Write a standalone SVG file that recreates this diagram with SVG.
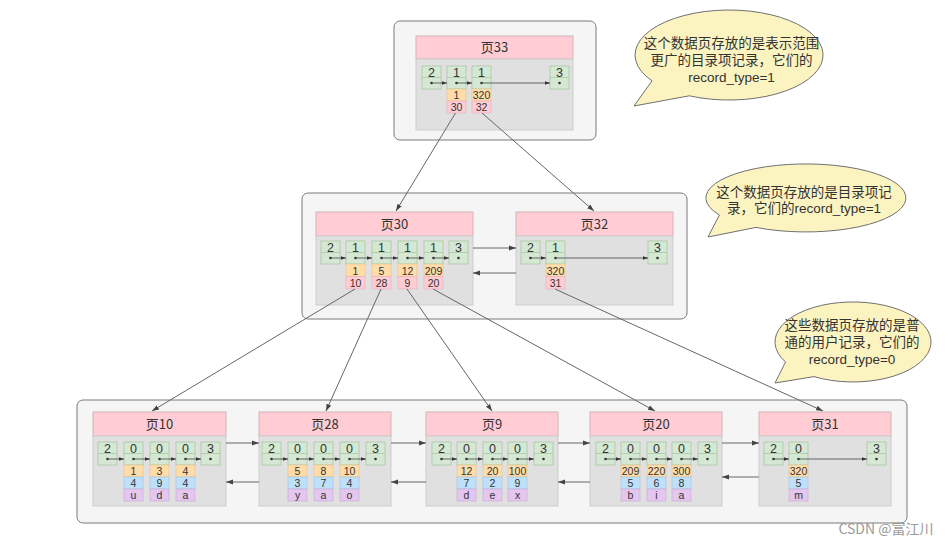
<svg xmlns="http://www.w3.org/2000/svg" width="949" height="544" viewBox="0 0 949 544">
<defs>
<marker id="ah" viewBox="0 0 10 10" refX="10" refY="5" markerWidth="7" markerHeight="7" markerUnits="userSpaceOnUse" orient="auto"><path d="M0,1.5 L10,5 L0,8.5 z" fill="#444"/></marker>
<marker id="as" viewBox="0 0 10 10" refX="10" refY="5" markerWidth="5" markerHeight="5" markerUnits="userSpaceOnUse" orient="auto"><path d="M0,1.5 L10,5 L0,8.5 z" fill="#333"/></marker>
</defs>
<style>
text{font-family:"Noto Sans CJK SC","Noto Sans",sans-serif;fill:#333;text-anchor:middle}
.outer{fill:#f5f5f5;stroke:#7a7a7a;stroke-width:1}
.hdr{fill:#ffcdd3;stroke:#d6b4b9;stroke-width:1}
.body{fill:#e0e0e0;stroke:#cdcdcd;stroke-width:1}
.g{fill:#d5e8d4;stroke:#a8c8a2;stroke-width:0.8}
.o{fill:#ffdca8;stroke:#e3c392;stroke-width:0.6}
.p{fill:#ffccd4;stroke:#e5b0b8;stroke-width:0.6}
.b{fill:#bfe0fa;stroke:#a0c4de;stroke-width:0.6}
.u{fill:#e4c6ee;stroke:#c9a9d4;stroke-width:0.6}
.t{font-size:13px}
.n{font-family:"Liberation Sans",sans-serif;font-size:12.5px}
.d{font-family:"Liberation Sans",sans-serif;font-size:10.5px}
.dot{fill:#333}
.ia{stroke:#444;stroke-width:0.8;fill:none;marker-end:url(#as)}
.c{stroke:#666;stroke-width:1;fill:none;marker-end:url(#ah)}
.bub{fill:#fcf4c0;stroke:#707070;stroke-width:1}
.bt{font-family:"Liberation Sans","Noto Sans CJK SC",sans-serif;font-size:13.5px;fill:#333}
</style>
<rect width="949" height="544" fill="#ffffff"/>

<!-- outer containers -->
<g id="level2-box"><rect class="outer" x="394" y="21" width="202" height="119" rx="6"/></g>
<g id="level1-box"><rect class="outer" x="302" y="193" width="385" height="126" rx="6"/></g>
<g id="level0-box"><rect class="outer" x="77" y="400" width="830" height="123" rx="6"/></g>

<!-- page 33 -->
<g id="page33">
<rect class="hdr" x="416" y="36" width="157" height="23"/>
<rect class="body" x="416" y="59" width="157" height="71"/>
<text class="t" x="494.5" y="52">页33</text>
<rect class="g" x="422" y="66" width="19" height="23"/><line x1="422" y1="77.5" x2="441" y2="77.5" stroke="#a8c8a2" stroke-width="0.8"/><text class="n" x="431.5" y="76.5">2</text><circle class="dot" cx="431.5" cy="83" r="1.3"/>
<rect class="g" x="447" y="66" width="19" height="23"/><line x1="447" y1="77.5" x2="466" y2="77.5" stroke="#a8c8a2" stroke-width="0.8"/><text class="n" x="456.5" y="76.5">1</text><circle class="dot" cx="456.5" cy="83" r="1.3"/>
<rect class="g" x="472" y="66" width="19" height="23"/><line x1="472" y1="77.5" x2="491" y2="77.5" stroke="#a8c8a2" stroke-width="0.8"/><text class="n" x="481.5" y="76.5">1</text><circle class="dot" cx="481.5" cy="83" r="1.3"/>
<rect class="g" x="550" y="66" width="19" height="23"/><line x1="550" y1="77.5" x2="569" y2="77.5" stroke="#a8c8a2" stroke-width="0.8"/><text class="n" x="559.5" y="76.5">3</text><circle class="dot" cx="559.5" cy="83" r="1.3"/>
<rect class="o" x="447" y="89" width="19" height="12"/><text class="d" x="456.5" y="99">1</text>
<rect class="o" x="472" y="89" width="19" height="12"/><text class="d" x="481.5" y="99">320</text>
<rect class="p" x="447" y="101" width="19" height="12"/><text class="d" x="456.5" y="111">30</text>
<rect class="p" x="472" y="101" width="19" height="12"/><text class="d" x="481.5" y="111">32</text>
<line class="ia" x1="431.5" y1="83" x2="447" y2="83"/>
<line class="ia" x1="456.5" y1="83" x2="472" y2="83"/>
<line class="ia" x1="481.5" y1="83" x2="550" y2="83"/>
</g>

<!-- page 30 -->
<g id="page30">
<rect class="hdr" x="316" y="212" width="157" height="24"/>
<rect class="body" x="316" y="236" width="157" height="69"/>
<text class="t" x="394.5" y="229">页30</text>
<rect class="g" x="321" y="241" width="19" height="23"/><line x1="321" y1="252.5" x2="340" y2="252.5" stroke="#a8c8a2" stroke-width="0.8"/><text class="n" x="330.5" y="251.5">2</text><circle class="dot" cx="330.5" cy="258" r="1.3"/>
<rect class="g" x="346" y="241" width="19" height="23"/><line x1="346" y1="252.5" x2="365" y2="252.5" stroke="#a8c8a2" stroke-width="0.8"/><text class="n" x="355.5" y="251.5">1</text><circle class="dot" cx="355.5" cy="258" r="1.3"/>
<rect class="g" x="372" y="241" width="19" height="23"/><line x1="372" y1="252.5" x2="391" y2="252.5" stroke="#a8c8a2" stroke-width="0.8"/><text class="n" x="381.5" y="251.5">1</text><circle class="dot" cx="381.5" cy="258" r="1.3"/>
<rect class="g" x="398" y="241" width="19" height="23"/><line x1="398" y1="252.5" x2="417" y2="252.5" stroke="#a8c8a2" stroke-width="0.8"/><text class="n" x="407.5" y="251.5">1</text><circle class="dot" cx="407.5" cy="258" r="1.3"/>
<rect class="g" x="424" y="241" width="19" height="23"/><line x1="424" y1="252.5" x2="443" y2="252.5" stroke="#a8c8a2" stroke-width="0.8"/><text class="n" x="433.5" y="251.5">1</text><circle class="dot" cx="433.5" cy="258" r="1.3"/>
<rect class="g" x="449" y="241" width="19" height="23"/><line x1="449" y1="252.5" x2="468" y2="252.5" stroke="#a8c8a2" stroke-width="0.8"/><text class="n" x="458.5" y="251.5">3</text><circle class="dot" cx="458.5" cy="258" r="1.3"/>
<rect class="o" x="346" y="264" width="19" height="12.5"/><text class="d" x="355.5" y="274.5">1</text>
<rect class="o" x="372" y="264" width="19" height="12.5"/><text class="d" x="381.5" y="274.5">5</text>
<rect class="o" x="398" y="264" width="19" height="12.5"/><text class="d" x="407.5" y="274.5">12</text>
<rect class="o" x="424" y="264" width="19" height="12.5"/><text class="d" x="433.5" y="274.5">209</text>
<rect class="p" x="346" y="276.5" width="19" height="12.5"/><text class="d" x="355.5" y="287">10</text>
<rect class="p" x="372" y="276.5" width="19" height="12.5"/><text class="d" x="381.5" y="287">28</text>
<rect class="p" x="398" y="276.5" width="19" height="12.5"/><text class="d" x="407.5" y="287">9</text>
<rect class="p" x="424" y="276.5" width="19" height="12.5"/><text class="d" x="433.5" y="287">20</text>
<line class="ia" x1="330.5" y1="258" x2="346" y2="258"/>
<line class="ia" x1="355.5" y1="258" x2="372" y2="258"/>
<line class="ia" x1="381.5" y1="258" x2="398" y2="258"/>
<line class="ia" x1="407.5" y1="258" x2="424" y2="258"/>
<line class="ia" x1="433.5" y1="258" x2="449" y2="258"/>
</g>

<!-- page 32 -->
<g id="page32">
<rect class="hdr" x="516" y="212" width="157" height="24"/>
<rect class="body" x="516" y="236" width="157" height="69"/>
<text class="t" x="594.5" y="229">页32</text>
<rect class="g" x="521" y="241" width="19" height="23"/><line x1="521" y1="252.5" x2="540" y2="252.5" stroke="#a8c8a2" stroke-width="0.8"/><text class="n" x="530.5" y="251.5">2</text><circle class="dot" cx="530.5" cy="258" r="1.3"/>
<rect class="g" x="546" y="241" width="19" height="23"/><line x1="546" y1="252.5" x2="565" y2="252.5" stroke="#a8c8a2" stroke-width="0.8"/><text class="n" x="555.5" y="251.5">1</text><circle class="dot" cx="555.5" cy="258" r="1.3"/>
<rect class="g" x="648" y="241" width="19" height="23"/><line x1="648" y1="252.5" x2="667" y2="252.5" stroke="#a8c8a2" stroke-width="0.8"/><text class="n" x="657.5" y="251.5">3</text><circle class="dot" cx="657.5" cy="258" r="1.3"/>
<rect class="o" x="546" y="264" width="19" height="12.5"/><text class="d" x="555.5" y="274.5">320</text>
<rect class="p" x="546" y="276.5" width="19" height="12.5"/><text class="d" x="555.5" y="287">31</text>
<line class="ia" x1="530.5" y1="258" x2="546" y2="258"/>
<line class="ia" x1="555.5" y1="258" x2="648" y2="258"/>
</g>

<!-- page 10 -->
<g id="page10">
<rect class="hdr" x="93" y="412" width="133" height="24"/>
<rect class="body" x="93" y="436" width="133" height="70"/>
<text class="t" x="159.5" y="429">页10</text>
<rect class="g" x="98" y="442" width="19" height="23"/><line x1="98" y1="453.5" x2="117" y2="453.5" stroke="#a8c8a2" stroke-width="0.8"/><text class="n" x="107.5" y="452.5">2</text><circle class="dot" cx="107.5" cy="459" r="1.3"/>
<rect class="g" x="124" y="442" width="19" height="23"/><line x1="124" y1="453.5" x2="143" y2="453.5" stroke="#a8c8a2" stroke-width="0.8"/><text class="n" x="133.5" y="452.5">0</text><circle class="dot" cx="133.5" cy="459" r="1.3"/>
<rect class="g" x="150" y="442" width="19" height="23"/><line x1="150" y1="453.5" x2="169" y2="453.5" stroke="#a8c8a2" stroke-width="0.8"/><text class="n" x="159.5" y="452.5">0</text><circle class="dot" cx="159.5" cy="459" r="1.3"/>
<rect class="g" x="176" y="442" width="19" height="23"/><line x1="176" y1="453.5" x2="195" y2="453.5" stroke="#a8c8a2" stroke-width="0.8"/><text class="n" x="185.5" y="452.5">0</text><circle class="dot" cx="185.5" cy="459" r="1.3"/>
<rect class="g" x="201" y="442" width="19" height="23"/><line x1="201" y1="453.5" x2="220" y2="453.5" stroke="#a8c8a2" stroke-width="0.8"/><text class="n" x="210.5" y="452.5">3</text><circle class="dot" cx="210.5" cy="459" r="1.3"/>
<rect class="o" x="124" y="465" width="19" height="12"/><text class="d" x="133.5" y="475">1</text>
<rect class="o" x="150" y="465" width="19" height="12"/><text class="d" x="159.5" y="475">3</text>
<rect class="o" x="176" y="465" width="19" height="12"/><text class="d" x="185.5" y="475">4</text>
<rect class="b" x="124" y="477" width="19" height="12"/><text class="d" x="133.5" y="487">4</text>
<rect class="b" x="150" y="477" width="19" height="12"/><text class="d" x="159.5" y="487">9</text>
<rect class="b" x="176" y="477" width="19" height="12"/><text class="d" x="185.5" y="487">4</text>
<rect class="u" x="124" y="489" width="19" height="12"/><text class="d" x="133.5" y="499">u</text>
<rect class="u" x="150" y="489" width="19" height="12"/><text class="d" x="159.5" y="499">d</text>
<rect class="u" x="176" y="489" width="19" height="12"/><text class="d" x="185.5" y="499">a</text>
<line class="ia" x1="107.5" y1="459" x2="124" y2="459"/>
<line class="ia" x1="133.5" y1="459" x2="150" y2="459"/>
<line class="ia" x1="159.5" y1="459" x2="176" y2="459"/>
<line class="ia" x1="185.5" y1="459" x2="201" y2="459"/>
</g>

<!-- page 28 -->
<g id="page28">
<rect class="hdr" x="259" y="412" width="132" height="24"/>
<rect class="body" x="259" y="436" width="132" height="70"/>
<text class="t" x="325" y="429">页28</text>
<rect class="g" x="262" y="442" width="19" height="23"/><line x1="262" y1="453.5" x2="281" y2="453.5" stroke="#a8c8a2" stroke-width="0.8"/><text class="n" x="271.5" y="452.5">2</text><circle class="dot" cx="271.5" cy="459" r="1.3"/>
<rect class="g" x="288" y="442" width="19" height="23"/><line x1="288" y1="453.5" x2="307" y2="453.5" stroke="#a8c8a2" stroke-width="0.8"/><text class="n" x="297.5" y="452.5">0</text><circle class="dot" cx="297.5" cy="459" r="1.3"/>
<rect class="g" x="314" y="442" width="19" height="23"/><line x1="314" y1="453.5" x2="333" y2="453.5" stroke="#a8c8a2" stroke-width="0.8"/><text class="n" x="323.5" y="452.5">0</text><circle class="dot" cx="323.5" cy="459" r="1.3"/>
<rect class="g" x="340" y="442" width="19" height="23"/><line x1="340" y1="453.5" x2="359" y2="453.5" stroke="#a8c8a2" stroke-width="0.8"/><text class="n" x="349.5" y="452.5">0</text><circle class="dot" cx="349.5" cy="459" r="1.3"/>
<rect class="g" x="366" y="442" width="19" height="23"/><line x1="366" y1="453.5" x2="385" y2="453.5" stroke="#a8c8a2" stroke-width="0.8"/><text class="n" x="375.5" y="452.5">3</text><circle class="dot" cx="375.5" cy="459" r="1.3"/>
<rect class="o" x="288" y="465" width="19" height="12"/><text class="d" x="297.5" y="475">5</text>
<rect class="o" x="314" y="465" width="19" height="12"/><text class="d" x="323.5" y="475">8</text>
<rect class="o" x="340" y="465" width="19" height="12"/><text class="d" x="349.5" y="475">10</text>
<rect class="b" x="288" y="477" width="19" height="12"/><text class="d" x="297.5" y="487">3</text>
<rect class="b" x="314" y="477" width="19" height="12"/><text class="d" x="323.5" y="487">7</text>
<rect class="b" x="340" y="477" width="19" height="12"/><text class="d" x="349.5" y="487">4</text>
<rect class="u" x="288" y="489" width="19" height="12"/><text class="d" x="297.5" y="499">y</text>
<rect class="u" x="314" y="489" width="19" height="12"/><text class="d" x="323.5" y="499">a</text>
<rect class="u" x="340" y="489" width="19" height="12"/><text class="d" x="349.5" y="499">o</text>
<line class="ia" x1="271.5" y1="459" x2="288" y2="459"/>
<line class="ia" x1="297.5" y1="459" x2="314" y2="459"/>
<line class="ia" x1="323.5" y1="459" x2="340" y2="459"/>
<line class="ia" x1="349.5" y1="459" x2="366" y2="459"/>
</g>

<!-- page 9 -->
<g id="page9">
<rect class="hdr" x="426" y="412" width="132" height="24"/>
<rect class="body" x="426" y="436" width="132" height="70"/>
<text class="t" x="492" y="429">页9</text>
<rect class="g" x="432" y="442" width="19" height="23"/><line x1="432" y1="453.5" x2="451" y2="453.5" stroke="#a8c8a2" stroke-width="0.8"/><text class="n" x="441.5" y="452.5">2</text><circle class="dot" cx="441.5" cy="459" r="1.3"/>
<rect class="g" x="457" y="442" width="19" height="23"/><line x1="457" y1="453.5" x2="476" y2="453.5" stroke="#a8c8a2" stroke-width="0.8"/><text class="n" x="466.5" y="452.5">0</text><circle class="dot" cx="466.5" cy="459" r="1.3"/>
<rect class="g" x="483" y="442" width="19" height="23"/><line x1="483" y1="453.5" x2="502" y2="453.5" stroke="#a8c8a2" stroke-width="0.8"/><text class="n" x="492.5" y="452.5">0</text><circle class="dot" cx="492.5" cy="459" r="1.3"/>
<rect class="g" x="508" y="442" width="19" height="23"/><line x1="508" y1="453.5" x2="527" y2="453.5" stroke="#a8c8a2" stroke-width="0.8"/><text class="n" x="517.5" y="452.5">0</text><circle class="dot" cx="517.5" cy="459" r="1.3"/>
<rect class="g" x="534" y="442" width="19" height="23"/><line x1="534" y1="453.5" x2="553" y2="453.5" stroke="#a8c8a2" stroke-width="0.8"/><text class="n" x="543.5" y="452.5">3</text><circle class="dot" cx="543.5" cy="459" r="1.3"/>
<rect class="o" x="457" y="465" width="19" height="12"/><text class="d" x="466.5" y="475">12</text>
<rect class="o" x="483" y="465" width="19" height="12"/><text class="d" x="492.5" y="475">20</text>
<rect class="o" x="508" y="465" width="19" height="12"/><text class="d" x="517.5" y="475">100</text>
<rect class="b" x="457" y="477" width="19" height="12"/><text class="d" x="466.5" y="487">7</text>
<rect class="b" x="483" y="477" width="19" height="12"/><text class="d" x="492.5" y="487">2</text>
<rect class="b" x="508" y="477" width="19" height="12"/><text class="d" x="517.5" y="487">9</text>
<rect class="u" x="457" y="489" width="19" height="12"/><text class="d" x="466.5" y="499">d</text>
<rect class="u" x="483" y="489" width="19" height="12"/><text class="d" x="492.5" y="499">e</text>
<rect class="u" x="508" y="489" width="19" height="12"/><text class="d" x="517.5" y="499">x</text>
<line class="ia" x1="441.5" y1="459" x2="457" y2="459"/>
<line class="ia" x1="466.5" y1="459" x2="483" y2="459"/>
<line class="ia" x1="492.5" y1="459" x2="508" y2="459"/>
<line class="ia" x1="517.5" y1="459" x2="534" y2="459"/>
</g>

<!-- page 20 -->
<g id="page20">
<rect class="hdr" x="590" y="412" width="132" height="24"/>
<rect class="body" x="590" y="436" width="132" height="70"/>
<text class="t" x="656" y="429">页20</text>
<rect class="g" x="596" y="442" width="19" height="23"/><line x1="596" y1="453.5" x2="615" y2="453.5" stroke="#a8c8a2" stroke-width="0.8"/><text class="n" x="605.5" y="452.5">2</text><circle class="dot" cx="605.5" cy="459" r="1.3"/>
<rect class="g" x="621" y="442" width="19" height="23"/><line x1="621" y1="453.5" x2="640" y2="453.5" stroke="#a8c8a2" stroke-width="0.8"/><text class="n" x="630.5" y="452.5">0</text><circle class="dot" cx="630.5" cy="459" r="1.3"/>
<rect class="g" x="647" y="442" width="19" height="23"/><line x1="647" y1="453.5" x2="666" y2="453.5" stroke="#a8c8a2" stroke-width="0.8"/><text class="n" x="656.5" y="452.5">0</text><circle class="dot" cx="656.5" cy="459" r="1.3"/>
<rect class="g" x="672" y="442" width="19" height="23"/><line x1="672" y1="453.5" x2="691" y2="453.5" stroke="#a8c8a2" stroke-width="0.8"/><text class="n" x="681.5" y="452.5">0</text><circle class="dot" cx="681.5" cy="459" r="1.3"/>
<rect class="g" x="698" y="442" width="19" height="23"/><line x1="698" y1="453.5" x2="717" y2="453.5" stroke="#a8c8a2" stroke-width="0.8"/><text class="n" x="707.5" y="452.5">3</text><circle class="dot" cx="707.5" cy="459" r="1.3"/>
<rect class="o" x="621" y="465" width="19" height="12"/><text class="d" x="630.5" y="475">209</text>
<rect class="o" x="647" y="465" width="19" height="12"/><text class="d" x="656.5" y="475">220</text>
<rect class="o" x="672" y="465" width="19" height="12"/><text class="d" x="681.5" y="475">300</text>
<rect class="b" x="621" y="477" width="19" height="12"/><text class="d" x="630.5" y="487">5</text>
<rect class="b" x="647" y="477" width="19" height="12"/><text class="d" x="656.5" y="487">6</text>
<rect class="b" x="672" y="477" width="19" height="12"/><text class="d" x="681.5" y="487">8</text>
<rect class="u" x="621" y="489" width="19" height="12"/><text class="d" x="630.5" y="499">b</text>
<rect class="u" x="647" y="489" width="19" height="12"/><text class="d" x="656.5" y="499">i</text>
<rect class="u" x="672" y="489" width="19" height="12"/><text class="d" x="681.5" y="499">a</text>
<line class="ia" x1="605.5" y1="459" x2="621" y2="459"/>
<line class="ia" x1="630.5" y1="459" x2="647" y2="459"/>
<line class="ia" x1="656.5" y1="459" x2="672" y2="459"/>
<line class="ia" x1="681.5" y1="459" x2="698" y2="459"/>
</g>

<!-- page 31 -->
<g id="page31">
<rect class="hdr" x="759" y="412" width="132" height="24"/>
<rect class="body" x="759" y="436" width="132" height="70"/>
<text class="t" x="825" y="429">页31</text>
<rect class="g" x="764" y="442" width="19" height="23"/><line x1="764" y1="453.5" x2="783" y2="453.5" stroke="#a8c8a2" stroke-width="0.8"/><text class="n" x="773.5" y="452.5">2</text><circle class="dot" cx="773.5" cy="459" r="1.3"/>
<rect class="g" x="789" y="442" width="19" height="23"/><line x1="789" y1="453.5" x2="808" y2="453.5" stroke="#a8c8a2" stroke-width="0.8"/><text class="n" x="798.5" y="452.5">0</text><circle class="dot" cx="798.5" cy="459" r="1.3"/>
<rect class="g" x="867" y="442" width="19" height="23"/><line x1="867" y1="453.5" x2="886" y2="453.5" stroke="#a8c8a2" stroke-width="0.8"/><text class="n" x="876.5" y="452.5">3</text><circle class="dot" cx="876.5" cy="459" r="1.3"/>
<rect class="o" x="789" y="465" width="19" height="12"/><text class="d" x="798.5" y="475">320</text>
<rect class="b" x="789" y="477" width="19" height="12"/><text class="d" x="798.5" y="487">5</text>
<rect class="u" x="789" y="489" width="19" height="12"/><text class="d" x="798.5" y="499">m</text>
<line class="ia" x1="773.5" y1="459" x2="789" y2="459"/>
<line class="ia" x1="798.5" y1="459" x2="867" y2="459"/>
</g>

<!-- connectors -->
<g id="connectors">
<line class="c" x1="455.5" y1="113" x2="396" y2="211"/>
<line class="c" x1="482" y1="113" x2="594" y2="211"/>
<line class="c" x1="355" y1="289" x2="152" y2="411"/>
<line class="c" x1="381" y1="289" x2="326" y2="411"/>
<line class="c" x1="407" y1="289" x2="492" y2="411"/>
<line class="c" x1="433" y1="289" x2="655" y2="411"/>
<line class="c" x1="555" y1="289" x2="823" y2="411"/>
<line class="c" x1="473" y1="248" x2="516" y2="248"/>
<line class="c" x1="516" y1="273" x2="473" y2="273"/>
<line class="c" x1="226" y1="443" x2="259" y2="443"/>
<line class="c" x1="259" y1="482" x2="226" y2="482"/>
<line class="c" x1="391" y1="443" x2="426" y2="443"/>
<line class="c" x1="426" y1="482" x2="391" y2="482"/>
<line class="c" x1="558" y1="443" x2="590" y2="443"/>
<line class="c" x1="590" y1="482" x2="558" y2="482"/>
<line class="c" x1="722" y1="443" x2="759" y2="443"/>
<line class="c" x1="759" y1="477" x2="722" y2="477"/>
</g>

<!-- callouts -->
<g id="callout1">
<path class="bub" d="M652,80.8 A94,45 0 1 1 689.3,95.8 L634,106 Z"/>
<text class="bt"><tspan x="731.5" y="48">这个数据页存放的是表示范围</tspan><tspan x="731.5" y="65">更广的目录项记录，它们的</tspan><tspan x="731.5" y="82">record_type=1</tspan></text>
</g>
<g id="callout2">
<path class="bub" d="M719.4,215 A100,34 0 1 1 756,227.4 L708,237 Z"/>
<text class="bt"><tspan x="804" y="196.5">这个数据页存放的是目录项记</tspan><tspan x="804" y="212.5">录，它们的record_type=1</tspan></text>
</g>
<g id="callout3">
<path class="bub" d="M785.5,362 A78,40 0 1 1 814,376.6 L775,383 Z"/>
<text class="bt"><tspan x="852" y="330">这些数据页存放的是普</tspan><tspan x="852" y="347">通的用户记录，它们的</tspan><tspan x="852" y="364">record_type=0</tspan></text>
</g>

<text x="886" y="534" style="font-size:14px;fill:#9a9a9a">CSDN @富江川</text>
</svg>
